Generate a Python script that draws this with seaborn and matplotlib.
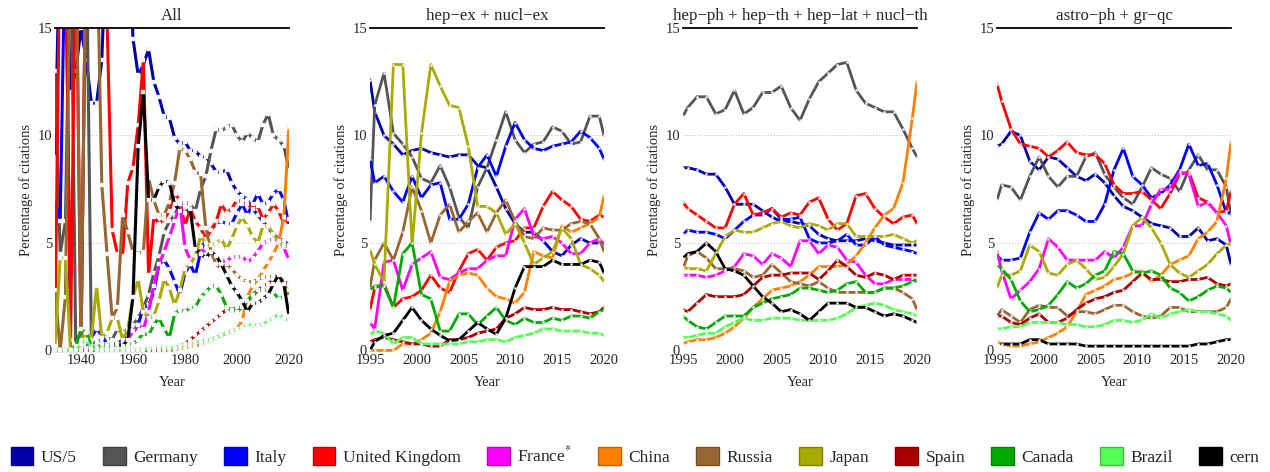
import numpy as np
import pandas as pd
import matplotlib
matplotlib.use("Agg")
import matplotlib.pyplot as plt
import matplotlib.colors as mcolors
import seaborn as sns
from matplotlib.patches import Patch

nan = np.nan

# countries, colours, legend text
COUNTRIES = ["US/5", "Germany", "Italy", "United Kingdom", "France*", "China",
             "Russia", "Japan", "Spain", "Canada", "Brazil", "cern"]
LEGEND_LABELS = ["US/5", "Germany", "Italy", "United Kingdom", "France$^{*}$", "China",
                 "Russia", "Japan", "Spain", "Canada", "Brazil", "cern"]
COLORS = ["#0000AA", "#555555", "#0000FF", "#FF0000", "#FF00FF", "#FF8000",
          "#996633", "#AAAA00", "#AA0000", "#00AA00", "#55FF55", "#000000"]

PANEL_TITLES = ["All", "hep\u2212ex + nucl\u2212ex",
                "hep\u2212ph + hep\u2212th + hep\u2212lat + nucl\u2212th", "astro\u2212ph + gr\u2212qc"]

# x values: every second year for "All", mid-years (plus edges) for the arXiv panels
years_all = np.arange(1930, 2021, 2)
years_recent = np.array([1995.0] + list(np.arange(1995.5, 2020, 1.0)) + [2020.0])

# ---- All (values above 15 run off the top of the panel)
all_us5 = [9.0, 20, 20, 12.0, 13.0, 15.0, 13.5, 11.5, 11.5, 13.5,
           20, 20, 20, 20, 20, 14.5, 12.8, 13.3, 14.0, 12.5,
           11.8, 10.9, 10.8, 9.9, 9.6, 9.7, 9.3, 9.3, 9.0, 9.0,
           8.7, 8.3, 8.3, 8.4, 7.8, 7.4, 7.2, 7.0, 6.6, 6.3,
           6.0, 5.7, 5.4, 5.2, 5.1, 4.9]
all_germany = [13.0, 4.5, 6.0, 20, 0.0, 0.0, 20, 0.3, 0.4, 0.5,
               0.6, 0.5, 1.0, 0.8, 1.0, 1.2, 1.5, 2.0, 2.6, 3.6,
               4.4, 5.5, 6.0, 6.3, 6.8, 6.9, 6.8, 6.5, 7.5, 8.1,
               9.3, 10.3, 10.2, 10.4, 10.5, 10.0, 9.7, 10.1, 9.9, 9.7,
               10.5, 11.0, 10.0, 9.8, 9.5, 8.4]
all_italy = [6.9, 6.0, 20, 0.0, 0.0, 0.1, 0.1, 0.6, 1.0, 0.7,
             0.3, 0.2, 0.3, 0.5, 0.7, 0.8, 1.2, 2.0, 2.1, 2.7,
             4.0, 4.2, 3.8, 3.2, 2.6, 3.6, 4.0, 3.5, 4.6, 5.2,
             5.6, 5.9, 6.0, 5.9, 5.9, 6.4, 6.8, 6.3, 6.8, 7.3,
             6.8, 6.9, 7.3, 7.5, 7.0, 5.8]
all_uk = [1.0, 20, 20, 0.5, 20, 0.2, 20, 20, 20, 20,
          15.5, 5.6, 4.5, 4.4, 7.8, 8.5, 10.5, 13.5, 3.5, 6.2,
          5.9, 6.1, 6.5, 7.3, 7.0, 5.8, 6.6, 6.0, 5.7, 5.2,
          5.6, 6.0, 6.8, 6.4, 6.6, 7.0, 6.9, 6.8, 6.6, 6.7,
          6.1, 6.4, 6.8, 6.5, 5.9, 6.1]
all_france = [0.0, 0.0, 0.0, 0.0, 0.0, 0.1, 0.1, 0.1, 0.1, 0.2,
              0.2, 0.2, 0.3, 0.3, 0.5, 0.9, 1.2, 1.0, 1.8, 3.0,
              4.0, 4.6, 5.3, 6.0, 6.8, 4.8, 4.2, 4.3, 4.8, 4.5,
              4.5, 4.3, 4.2, 4.1, 4.4, 4.3, 4.4, 4.1, 4.3, 4.6,
              5.0, 5.1, 5.2, 5.1, 4.8, 4.2]
all_china = [0.0, 0.0, 0.0, 0.0, 0.0, 0.0, 0.0, 0.0, 0.0, 0.0,
             0.0, 0.0, 0.0, 0.0, 0.0, 0.0, 0.0, 0.0, 0.0, 0.0,
             0.0, 0.0, 0.0, 0.0, 0.1, 0.1, 0.2, 0.2, 0.3, 0.4,
             0.5, 0.6, 0.7, 0.8, 0.9, 1.0, 1.4, 2.5, 3.0, 3.3,
             3.7, 4.1, 4.5, 5.0, 6.2, 10.4]
all_russia = [2.8, 0.0, 2.5, 20, 20, 0.2, 20, 20, 20, 7.7,
              4.5, 1.5, 2.0, 6.3, 5.5, 4.6, 4.5, 4.6, 8.0, 7.0,
              6.3, 6.3, 6.9, 7.8, 9.4, 9.3, 8.9, 8.3, 8.2, 5.7,
              4.6, 4.0, 3.8, 4.0, 3.8, 3.5, 3.3, 3.2, 3.2, 3.3,
              3.4, 3.4, 3.5, 3.4, 3.2, 2.5]
all_japan = [0.2, 4.3, 4.3, 0.0, 0.3, 0.5, 0.8, 0.5, 3.0, 0.6,
             0.8, 1.5, 1.5, 0.5, 1.0, 2.5, 3.3, 1.8, 1.5, 1.6,
             2.3, 3.3, 2.9, 2.1, 2.8, 3.8, 4.0, 4.4, 5.3, 5.0,
             4.9, 5.0, 5.2, 4.7, 5.2, 5.8, 6.2, 5.8, 5.3, 5.0,
             5.8, 5.8, 5.4, 5.1, 4.9, 4.8]
all_spain = [0.0] * 20 + [0.0, 0.0, 0.05, 0.1, 0.2, 0.3, 0.5, 0.7, 0.9, 1.1,
                          1.3, 1.5, 1.7, 1.9, 1.9, 2.0, 2.0, 2.3, 2.5, 2.8,
                          3.0, 3.1, 3.3, 3.3, 3.2, 3.1]
all_canada = [0.0, 0.0, 0.0, 0.0, 0.2, 1.0, 0.8, 0.2, 0.1, 0.3,
              0.2, 0.2, 0.3, 0.2, 0.3, 0.3, 0.5, 0.8, 0.7, 1.2,
              1.5, 1.0, 0.6, 1.7, 1.9, 1.8, 2.0, 2.0, 2.5, 2.7,
              3.0, 3.0, 2.6, 2.0, 1.9, 1.8, 2.0, 2.3, 2.6, 2.8,
              2.8, 2.8, 2.7, 2.4, 2.5, 2.8]
all_brazil = [0.0, 0.0, 0.0, 0.0, 0.0, 0.3, 0.5, 0.1, 0.0, 0.0,
              0.0, 0.0, 0.0, 0.0, 0.0, 0.0, 0.0, 0.0, 0.1, 0.1,
              0.2, 0.1, 0.1, 0.1, 0.2, 0.3, 0.3, 0.4, 0.4, 0.5,
              0.5, 0.6, 0.7, 0.8, 0.9, 1.0, 1.1, 1.2, 1.2, 1.2,
              1.2, 1.4, 1.5, 1.7, 1.5, 1.4]
all_cern = [nan] * 10 + [nan, 0.3, 0.3, 0.2, 0.5, 2.5, 9.5, 12.0, 7.0, 7.0,
                         7.6, 7.9, 7.8, 6.8, 6.5, 6.4, 6.6, 4.7, 4.5, 4.3,
                         4.6, 4.4, 4.0, 3.5, 3.0, 2.7, 2.3, 1.8, 2.2, 2.2,
                         2.4, 2.6, 3.1, 3.5, 3.1, 1.6]

# ---- hep-ex + nucl-ex
ex_us5 = [12.6, 11.1, 10.0, 9.6, 9.1, 9.3, 9.4, 9.2, 9.1, 9.0, 9.1, 9.1, 8.6, 8.5, 7.6, 6.6, 5.9, 5.5, 5.5, 5.1, 4.6, 4.4, 4.9, 5.2, 5.0, 5.0, 5.0]
ex_germany = [6.0, 11.4, 12.9, 10.1, 9.6, 9.0, 8.0, 7.8, 8.6, 7.6, 6.2, 5.7, 7.6, 8.5, 9.8, 11.1, 9.8, 9.2, 9.6, 9.7, 10.4, 10.2, 9.6, 9.7, 10.9, 10.9, 10.0]
ex_italy = [8.9, 7.8, 8.1, 7.4, 6.9, 8.1, 7.1, 7.7, 7.8, 6.1, 6.1, 6.8, 8.5, 9.1, 8.1, 9.5, 10.6, 9.8, 9.4, 9.3, 9.5, 9.6, 9.7, 10.2, 9.9, 9.4, 8.9]
ex_uk = [1.9, 2.9, 3.1, 2.0, 2.4, 2.5, 2.8, 3.5, 2.9, 2.7, 3.7, 4.5, 4.7, 4.2, 4.8, 5.0, 5.1, 5.7, 5.7, 6.7, 7.4, 7.0, 6.7, 6.1, 6.0, 6.3, 6.2]
ex_france = [1.3, 1.0, 4.1, 4.2, 2.8, 4.0, 4.3, 4.6, 3.4, 3.3, 3.6, 3.8, 3.8, 4.2, 4.4, 4.4, 6.1, 6.6, 5.3, 5.2, 5.3, 5.0, 4.5, 4.5, 5.0, 5.2, 4.9]
ex_china = [0.0, 0.0, 0.0, 0.0, 0.3, 0.3, 0.5, 0.8, 1.8, 3.2, 3.5, 3.6, 3.5, 2.9, 2.5, 2.4, 2.2, 2.7, 4.6, 4.4, 4.3, 5.8, 5.5, 5.7, 5.9, 6.2, 7.2]
ex_russia = [2.9, 4.2, 5.0, 4.2, 5.5, 7.6, 6.5, 5.0, 6.3, 6.8, 5.5, 6.0, 6.4, 5.5, 6.4, 7.0, 6.0, 5.3, 5.2, 5.7, 5.6, 5.6, 5.9, 6.0, 5.9, 5.2, 4.6]
ex_japan = [4.7, 4.0, 3.2, 13.3, 13.3, 4.9, 10.1, 13.3, 12.3, 11.4, 11.3, 9.5, 6.7, 6.7, 6.4, 5.4, 5.9, 5.0, 4.0, 4.3, 4.6, 5.7, 5.2, 4.0, 3.8, 3.5, 3.2]
ex_spain = [0.4, 0.5, 0.6, 0.5, 0.4, 0.3, 0.3, 0.2, 0.2, 0.5, 0.5, 0.6, 0.8, 0.9, 1.0, 1.5, 1.7, 2.0, 1.9, 1.9, 2.0, 1.9, 1.9, 1.8, 1.7, 1.8, 2.0]
ex_canada = [2.8, 3.0, 3.0, 2.0, 4.5, 5.0, 2.6, 2.4, 0.9, 0.9, 1.7, 1.7, 1.2, 1.6, 2.0, 1.4, 1.2, 1.5, 1.3, 1.3, 1.5, 1.4, 1.6, 1.6, 1.5, 1.8, 1.9]
ex_brazil = [0.7, 0.9, 0.8, 0.3, 0.6, 0.6, 0.3, 0.3, 0.3, 0.3, 0.3, 0.4, 0.4, 0.5, 0.5, 0.4, 0.6, 0.7, 0.8, 1.0, 1.0, 0.9, 0.9, 0.9, 0.8, 0.8, 0.7]
ex_cern = [0.0, 0.4, 0.7, 0.8, 1.4, 2.0, 1.4, 1.0, 0.7, 0.45, 0.5, 0.9, 1.3, 1.0, 0.75, 1.5, 2.9, 3.9, 3.9, 3.9, 4.2, 4.0, 4.0, 4.0, 4.2, 4.1, 3.6]

# ---- hep-ph + hep-th + hep-lat + nucl-th
th_us5 = [8.5, 8.5, 8.4, 8.2, 8.2, 7.6, 6.8, 6.8, 6.8, 6.5, 6.2, 6.0, 6.0, 5.9, 5.8, 5.4, 5.2, 5.1, 5.1, 5.1, 5.2, 5.1, 5.0, 4.9, 4.9, 4.9, 4.9]
th_germany = [10.9, 11.3, 11.8, 11.8, 11.0, 11.2, 12.1, 11.0, 11.3, 12.0, 12.0, 12.3, 11.3, 10.7, 11.7, 12.5, 12.9, 13.3, 13.4, 12.1, 11.5, 11.3, 11.1, 11.1, 10.3, 9.4, 9.0]
th_italy = [5.4, 5.6, 5.5, 5.5, 5.4, 5.2, 5.6, 6.0, 6.3, 6.3, 6.6, 6.1, 6.1, 6.2, 5.2, 5.0, 5.0, 5.1, 5.4, 4.9, 4.9, 5.3, 4.9, 4.8, 4.7, 4.6, 4.5]
th_uk = [6.9, 6.6, 6.3, 6.0, 5.7, 5.7, 6.8, 7.3, 6.3, 6.4, 6.6, 6.2, 6.4, 6.3, 6.9, 7.1, 6.1, 5.6, 5.9, 7.2, 7.3, 6.6, 6.2, 5.9, 6.2, 6.3, 5.9]
th_france = [3.5, 3.5, 3.5, 3.4, 3.5, 3.7, 3.9, 4.5, 4.4, 4.0, 4.5, 4.3, 3.9, 5.1, 5.1, 4.5, 4.9, 4.8, 4.2, 4.1, 3.5, 3.1, 3.1, 3.3, 3.3, 3.3, 3.2]
th_china = [0.3, 0.4, 0.5, 0.5, 0.6, 0.8, 1.1, 1.5, 2.0, 2.4, 2.8, 2.9, 3.0, 3.2, 3.5, 3.9, 3.9, 3.9, 4.0, 4.4, 5.0, 5.7, 6.3, 6.6, 7.8, 10.8, 12.5]
th_russia = [3.8, 4.4, 4.6, 4.3, 3.8, 3.8, 3.8, 3.7, 3.4, 3.5, 4.0, 3.6, 3.2, 3.1, 3.0, 3.2, 2.9, 2.7, 2.7, 2.7, 2.7, 2.7, 2.9, 2.9, 2.7, 2.4, 1.9]
th_japan = [3.9, 3.8, 3.8, 3.7, 4.5, 5.3, 5.6, 5.5, 5.5, 5.7, 5.9, 6.0, 5.8, 5.7, 5.9, 5.8, 5.6, 5.9, 5.9, 5.3, 5.3, 5.3, 5.3, 5.4, 5.2, 5.0, 5.1]
th_spain = [1.9, 1.8, 2.2, 2.6, 2.5, 2.5, 2.5, 2.6, 3.0, 3.4, 3.5, 3.5, 3.6, 3.6, 3.6, 3.3, 3.7, 4.2, 3.9, 3.5, 3.4, 3.6, 3.5, 3.3, 3.5, 3.5, 3.5]
th_canada = [1.6, 1.4, 1.1, 1.0, 1.3, 1.6, 1.6, 1.6, 2.0, 2.2, 2.4, 2.5, 2.6, 2.9, 2.9, 2.8, 2.7, 2.8, 3.1, 3.2, 2.7, 2.7, 2.9, 2.9, 3.0, 3.2, 3.3]
th_brazil = [0.6, 0.6, 0.7, 0.8, 0.8, 1.1, 1.3, 1.5, 1.4, 1.4, 1.5, 1.5, 1.5, 1.4, 1.4, 1.4, 1.4, 1.5, 1.7, 2.0, 2.1, 2.2, 2.1, 1.9, 1.8, 1.7, 1.6]
th_cern = [4.3, 4.5, 4.6, 5.0, 4.6, 3.8, 3.7, 3.5, 3.0, 2.5, 2.2, 1.8, 1.9, 1.7, 1.4, 1.8, 2.2, 2.2, 2.2, 2.0, 2.0, 1.8, 1.6, 1.7, 1.6, 1.4, 1.3]

# ---- astro-ph + gr-qc
astro_us5 = [9.5, 9.6, 10.2, 10.0, 8.8, 8.4, 9.0, 8.9, 8.5, 8.1, 7.9, 8.2, 7.8, 7.2, 6.7, 6.5, 6.2, 5.9, 5.8, 5.7, 5.3, 5.3, 5.7, 5.1, 5.2, 4.9, 4.0]
astro_germany = [7.0, 7.7, 7.6, 7.0, 8.1, 9.0, 8.1, 7.6, 8.1, 8.1, 9.0, 9.2, 8.2, 7.6, 7.1, 6.8, 7.6, 8.5, 8.2, 8.0, 7.4, 8.4, 9.1, 8.4, 8.4, 7.6, 6.3]
astro_italy = [4.4, 4.2, 4.2, 4.3, 5.5, 6.4, 6.1, 6.5, 6.5, 6.3, 6.0, 6.0, 6.8, 8.4, 9.4, 8.1, 7.7, 7.1, 7.3, 7.7, 8.4, 9.6, 8.6, 8.7, 7.7, 6.4, 6.4]
astro_uk = [12.4, 11.6, 10.3, 9.6, 9.5, 9.4, 9.0, 9.3, 9.7, 9.2, 9.1, 9.1, 8.7, 7.7, 7.3, 7.3, 7.4, 7.0, 6.6, 7.3, 8.2, 8.3, 7.1, 6.9, 6.4, 6.5, 7.4]
astro_france = [4.6, 3.7, 2.4, 2.8, 3.2, 3.8, 5.2, 4.8, 4.2, 4.2, 4.2, 4.2, 4.6, 4.3, 4.8, 5.8, 5.8, 6.8, 7.5, 7.5, 8.3, 8.2, 6.7, 6.9, 6.4, 5.8, 4.9]
astro_china = [0.4, 0.3, 0.2, 0.2, 0.3, 0.4, 0.6, 0.8, 1.1, 1.8, 2.6, 2.8, 3.0, 3.3, 3.4, 3.6, 3.7, 3.2, 3.5, 4.0, 4.2, 4.4, 5.2, 5.5, 6.0, 8.0, 9.7]
astro_russia = [1.6, 1.9, 1.6, 1.3, 1.9, 2.1, 2.0, 2.0, 1.6, 1.8, 1.8, 1.7, 1.9, 2.1, 2.1, 1.8, 1.6, 1.5, 1.6, 2.0, 2.0, 1.8, 1.8, 1.8, 1.8, 2.0, 2.4]
astro_japan = [2.9, 3.5, 3.5, 3.7, 4.9, 4.6, 3.6, 3.5, 4.0, 4.2, 3.8, 3.3, 3.4, 3.9, 4.5, 5.8, 6.2, 5.7, 5.0, 4.0, 3.6, 3.4, 3.7, 4.0, 4.5, 4.9, 5.0]
astro_spain = [1.6, 1.6, 1.3, 1.2, 1.5, 1.7, 1.3, 1.3, 1.5, 1.9, 2.2, 2.4, 2.5, 2.7, 2.8, 3.2, 3.6, 3.3, 3.3, 3.2, 3.2, 3.3, 3.3, 3.4, 3.1, 3.0, 3.1]
astro_canada = [4.0, 3.8, 3.3, 2.3, 1.8, 1.9, 2.1, 2.6, 3.2, 2.9, 3.1, 3.5, 3.7, 4.6, 4.5, 3.7, 3.6, 3.7, 3.5, 2.9, 2.7, 2.3, 2.5, 2.8, 3.0, 2.9, 2.7]
astro_brazil = [1.0, 1.0, 1.1, 1.1, 1.3, 1.3, 1.3, 1.3, 1.2, 1.2, 1.1, 1.1, 1.2, 1.4, 1.4, 1.3, 1.4, 1.7, 1.5, 1.7, 1.8, 1.9, 1.8, 1.8, 1.7, 1.6, 1.4]
astro_cern = [nan, 0.3, 0.3, 0.3, 0.5, 0.5, 0.3, 0.3, 0.3, 0.3, 0.2, 0.2, 0.2, 0.2, 0.2, 0.2, 0.2, 0.2, 0.2, 0.2, 0.2, 0.2, 0.3, 0.3, 0.4, 0.5, 0.5]


def _panel_frame(years, values):
    """Long-form frame (year, share, country) for one panel"""
    parts = [pd.DataFrame({"year": years, "share": v, "country": c})
             for c, v in zip(COUNTRIES, values)]
    return pd.concat(parts, ignore_index=True)


panels = [
    (years_all, [all_us5, all_germany, all_italy, all_uk, all_france, all_china,
                 all_russia, all_japan, all_spain, all_canada, all_brazil, all_cern],
     (1930, 2020), [1940, 1960, 1980, 2000, 2020], 2.2, 2.3),
    (years_recent, [ex_us5, ex_germany, ex_italy, ex_uk, ex_france, ex_china,
                    ex_russia, ex_japan, ex_spain, ex_canada, ex_brazil, ex_cern],
     (1995, 2020), [1995, 2000, 2005, 2010, 2015, 2020], 2.0, 1.4),
    (years_recent, [th_us5, th_germany, th_italy, th_uk, th_france, th_china,
                    th_russia, th_japan, th_spain, th_canada, th_brazil, th_cern],
     (1995, 2020), [1995, 2000, 2005, 2010, 2015, 2020], 2.0, 1.4),
    (years_recent, [astro_us5, astro_germany, astro_italy, astro_uk, astro_france, astro_china,
                    astro_russia, astro_japan, astro_spain, astro_canada, astro_brazil, astro_cern],
     (1995, 2020), [1995, 2000, 2005, 2010, 2015, 2020], 2.0, 1.4),
]

sns.set_theme(style="white")
plt.rcParams["font.family"] = ["Liberation Serif", "DejaVu Serif"]
plt.rcParams["mathtext.fontset"] = "stix"

palette = dict(zip(COUNTRIES, COLORS))
fig = plt.figure(figsize=(12.7, 4.72), dpi=100)

lefts = [55, 370, 683, 997]
for (years, values, xlim, xticks, lw, ms), left, title in zip(panels, lefts, PANEL_TITLES):
    ax = fig.add_axes([left / 1270, 119 / 472, 234 / 1270, 325 / 472])
    df = _panel_frame(years, values)

    sns.lineplot(data=df, x="year", y="share", hue="country", hue_order=COUNTRIES,
                 palette=palette, estimator=None, legend=False, ax=ax,
                 linewidth=lw, marker="s", markersize=ms,
                 markerfacecolor="white", markeredgecolor="#dddddd", markeredgewidth=0.3)

    ax.set_xlim(*xlim)
    ax.set_ylim(-0.12, 15)
    ax.set_xticks(xticks)
    ax.set_yticks([0, 5, 10, 15])
    for v in (5, 10):
        ax.axhline(v, color="#bbbbbb", lw=0.7, ls=(0, (1, 2)), zorder=0)

    for side in ("left", "right", "bottom"):
        ax.spines[side].set_visible(False)
    ax.spines["top"].set_color("black")
    ax.spines["top"].set_linewidth(1.3)
    ax.spines["top"].set_position(("data", 15))

    ax.tick_params(axis="both", labelsize=10.5, length=0)
    ax.tick_params(axis="x", pad=1)
    ax.tick_params(axis="y", pad=2)
    ax.set_title(title, fontsize=12.2, pad=6)
    ax.set_xlabel("Year", fontsize=10.5, labelpad=6)
    ax.set_ylabel("Percentage of citations", fontsize=10.5, labelpad=3)

handles = [Patch(facecolor=c, edgecolor=tuple(0.75 * np.array(mcolors.to_rgb(c))), linewidth=1.0)
           for c in COLORS]
fig.legend(handles, LEGEND_LABELS, loc="lower center", bbox_to_anchor=(0.5, -0.02),
           ncol=12, frameon=False, fontsize=12.5, handlelength=1.3, handleheight=1.3,
           handletextpad=0.45, columnspacing=1.5)

fig.savefig("out.png", dpi=100)
plt.close(fig)
